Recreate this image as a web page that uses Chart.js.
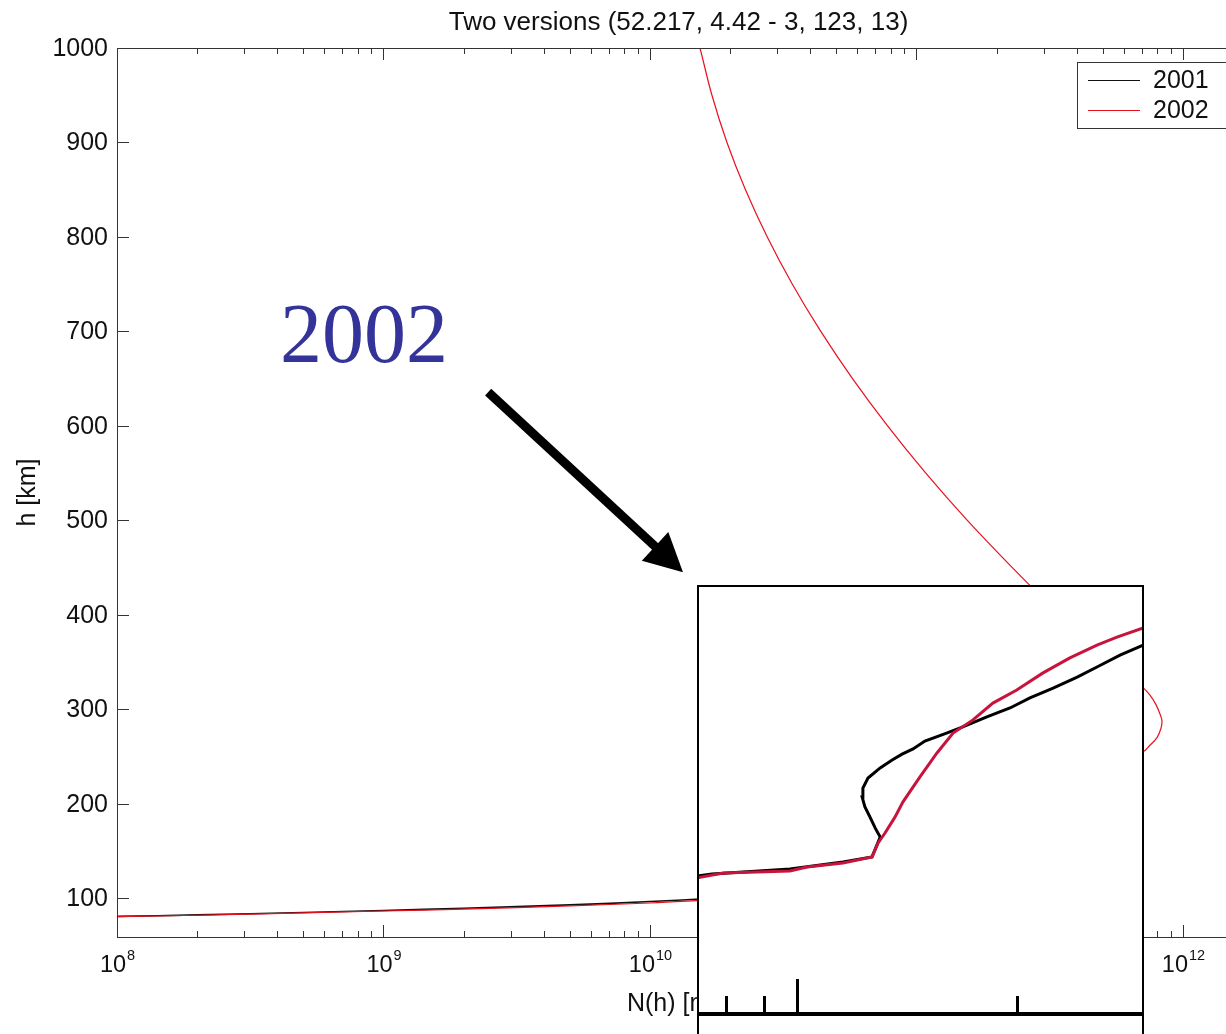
<!DOCTYPE html>
<html>
<head>
<meta charset="utf-8">
<title>Two versions</title>
<script src="https://cdn.jsdelivr.net/npm/chart.js@4.4.1/dist/chart.umd.min.js"></script>
<style>
	html, body { margin: 0; padding: 0; background: #fff; overflow: hidden; }
	#page { position: relative; width: 1226px; height: 1034px; overflow: hidden; background: #fff; }
	#main { position: absolute; left: 0; top: 0; }
	#inset { position: absolute; left: 697px; top: 585px; width: 443px; height: 447px; border: 2px solid #000; background: #fff; }
	#inset canvas { display: block; }
</style>
</head>
<body>
<div id="page">
	<canvas id="main" width="1300" height="1034"></canvas>
	<div id="inset"><canvas id="zoom" width="443" height="447"></canvas></div>
</div>
<script>
// electron density N [m^-3] against height h [km]
var n2001 = [1e8, 2e8, 5e8, 1e9, 2e9, 5e9, 1e10, 1.6e10, 2.5e10, 4e10, 7e10, 1e11, 1.1e11, 1.5e11, 2.2e11, 3.2e11, 4.5e11, 5.5e11, 6.2e11];
var h2001 = [80.8, 82.4, 85, 87, 89.5, 93, 96.5, 99.5, 102, 106, 112, 125, 150, 175, 200, 230, 260, 290, 320];

var n2002 = [1e8, 2e8, 5e8, 1e9, 2e9, 5e9, 1e10, 1.6e10, 2.5e10, 4e10, 7e10, 1e11, 1.3e11, 1.6e11, 2.2e11, 3e11, 4.2e11, 5.6e11,
	7.08e11, 7.52e11, 7.99e11, 8.27e11, 8.34e11, 8.20e11, 7.92e11, 7.52e11, 7.08e11, 5.94e11, 4.95e11, 3.48e11, 2.67e11,
	2.29e11, 1.552e11, 1.084e11, 7.79e10, 5.754e10, 4.375e10, 3.422e10, 2.755e10, 2.282e10, 1.945e10, 1.708e10, 1.54e10, 1.39e10];
var h2002 = [80.5, 82, 84.5, 86.5, 88.5, 92, 95, 98, 101, 105, 110, 118, 130, 150, 175, 200, 225, 245,
	255, 262, 270, 280, 288, 295, 305, 315, 323, 340, 360, 400, 431,
	450, 500, 550, 600, 650, 700, 750, 800, 850, 900, 950, 1000, 1045];

var seriesLabels = ['2001', '2002'];
var seriesColors = ['#111111', '#e8101e'];

var xDecades = [8, 9, 10, 11, 12];
var yTicks = [100, 200, 300, 400, 500, 600, 700, 800, 900, 1000];

// pasted close-up of the lower profile
var zoomN2001 = [7.2e9, 7.65e9, 9.78e9, 1.156e10, 1.267e10, 1.30e10, 1.28e10, 1.259e10, 1.239e10, 1.228e10, 1.231e10, 1.251e10, 1.30e10,
	1.35e10, 1.393e10, 1.442e10, 1.497e10, 1.603e10, 1.687e10, 1.82e10, 1.958e10, 2.085e10, 2.243e10, 2.42e10, 2.576e10, 2.77e10, 2.98e10];
var zoomH2001 = [125, 125.8, 127.4, 129.7, 131.4, 137.9, 140.8, 144.4, 147.7, 151.0, 153.9, 157.2, 160.5,
	163.1, 165.0, 166.7, 169.3, 171.9, 173.9, 177.2, 180.1, 183.4, 186.6, 190.2, 193.5, 197.4, 200.7];
var zoomN2002 = [7.2e9, 7.93e9, 9.78e9, 1.032e10, 1.156e10, 1.267e10, 1.291e10, 1.32e10, 1.362e10, 1.397e10, 1.473e10, 1.555e10,
	1.636e10, 1.742e10, 1.855e10, 2.0e10, 2.17e10, 2.365e10, 2.576e10, 2.743e10, 2.98e10];
var zoomH2002 = [124.3, 126.1, 126.8, 128.1, 129.4, 131.4, 135.9, 139.2, 144.4, 149.4, 157.5, 165.4,
	171.9, 176.2, 181.7, 186.0, 191.5, 196.5, 200.7, 203.3, 206.3];
var zoomTicks = [8e9, 9e9, 1e10, 2e10];
var zoomMajor = [1e10];
var zoomBase = 80;

var noteText = '2002';
var notePos = { n: 4.09e8, h: 667.5 };
var arrowFrom = { n: 2.47e9, h: 635.7 };
var arrowTo = { n: 1.33e10, h: 445.2 };

var family = "'Liberation Sans', Arial, Helvetica, sans-serif";

function toPoints(ns, hs) {
	return ns.map(function (n, i) { return { x: n, y: hs[i] }; });
}

function line(ctx, x1, y1, x2, y2) {
	ctx.beginPath();
	ctx.moveTo(x1, y1);
	ctx.lineTo(x2, y2);
	ctx.stroke();
}

var frame = {
	id: 'frame',
	afterDraw: function (chart) {
		var ctx = chart.ctx, a = chart.chartArea, xs = chart.scales.x, ys = chart.scales.y;
		ctx.save();
		ctx.strokeStyle = '#333';
		ctx.fillStyle = '#111';
		ctx.lineWidth = 1;
		ctx.strokeRect(Math.round(a.left) + 0.5, Math.round(a.top) + 0.5, Math.round(a.right - a.left), Math.round(a.bottom - a.top));

		// y ticks and labels
		ctx.font = '25px ' + family;
		ctx.textAlign = 'right';
		ctx.textBaseline = 'middle';
		yTicks.forEach(function (v) {
			var y = Math.round(ys.getPixelForValue(v)) + 0.5;
			line(ctx, a.left, y, a.left + 12, y);
			line(ctx, a.right, y, a.right - 12, y);
			ctx.fillText(String(v), a.left - 9, y + 1);
		});

		// x ticks, log minor ticks
		xDecades.forEach(function (d) {
			for (var m = 1; m <= 9; m++) {
				var v = m * Math.pow(10, d);
				if (v > xs.max) break;
				var x = Math.round(xs.getPixelForValue(v)) + 0.5;
				var len = m === 1 ? 12 : 6;
				line(ctx, x, a.bottom, x, a.bottom - len);
				line(ctx, x, a.top, x, a.top + len);
			}
			var px = xs.getPixelForValue(Math.pow(10, d));
			ctx.textAlign = 'left';
			ctx.textBaseline = 'alphabetic';
			ctx.font = '23.5px ' + family;
			var wb = ctx.measureText('10').width;
			ctx.font = '14.5px ' + family;
			var we = ctx.measureText(String(d)).width;
			var left = px - (wb + we) / 2;
			ctx.font = '23.5px ' + family;
			ctx.fillText('10', left, a.bottom + 35);
			ctx.font = '14.5px ' + family;
			ctx.fillText(String(d), left + wb + 1, a.bottom + 23);
		});

		// title
		var cx = (a.left + a.right) / 2;
		ctx.font = '26px ' + family;
		ctx.textAlign = 'center';
		ctx.fillText('Two versions (52.217, 4.42 - 3, 123, 13)', cx, a.top - 18);

		// x label with superscript
		ctx.font = '25px ' + family;
		var w1 = ctx.measureText('N(h) [m').width;
		var w3 = ctx.measureText(']').width;
		ctx.font = '14.5px ' + family;
		var w2 = ctx.measureText('-3').width;
		var lx = cx - (w1 + w2 + w3) / 2;
		ctx.textAlign = 'left';
		ctx.font = '25px ' + family;
		ctx.fillText('N(h) [m', lx, a.bottom + 74);
		ctx.fillText(']', lx + w1 + w2 + 1, a.bottom + 74);
		ctx.font = '14.5px ' + family;
		ctx.fillText('-3', lx + w1 + 1, a.bottom + 62);

		// y label
		ctx.save();
		ctx.translate(28, (a.top + a.bottom) / 2);
		ctx.rotate(-Math.PI / 2);
		ctx.font = '25px ' + family;
		ctx.textAlign = 'center';
		ctx.textBaseline = 'middle';
		ctx.fillText('h [km]', 0, 0);
		ctx.restore();

		// legend box, top right inside the axes
		var bx = a.right - 163, by = a.top + 14;
		ctx.fillStyle = '#fff';
		ctx.fillRect(bx, by, 151, 66);
		ctx.strokeStyle = '#333';
		ctx.strokeRect(bx + 0.5, by + 0.5, 151, 66);
		ctx.font = '25px ' + family;
		ctx.textAlign = 'left';
		ctx.textBaseline = 'middle';
		chart.data.datasets.forEach(function (ds, i) {
			var ly = by + 18 + i * 30 + 0.5;
			ctx.strokeStyle = ds.borderColor;
			ctx.lineWidth = 1.2;
			line(ctx, bx + 11, ly, bx + 63, ly);
			ctx.fillStyle = '#111';
			ctx.fillText(ds.label, bx + 76, ly + 1);
		});

		// annotation text and arrow
		ctx.font = "84px 'Liberation Serif', 'Times New Roman', serif";
		ctx.fillStyle = '#333399';
		ctx.textBaseline = 'alphabetic';
		ctx.fillText(noteText, xs.getPixelForValue(notePos.n), ys.getPixelForValue(notePos.h));

		var p0x = xs.getPixelForValue(arrowFrom.n), p0y = ys.getPixelForValue(arrowFrom.h);
		var p1x = xs.getPixelForValue(arrowTo.n), p1y = ys.getPixelForValue(arrowTo.h);
		var dx = p1x - p0x, dy = p1y - p0y, len = Math.hypot(dx, dy), ux = dx / len, uy = dy / len;
		var hx = p1x - ux * 38, hy = p1y - uy * 38;
		ctx.strokeStyle = '#000';
		ctx.lineWidth = 9;
		ctx.lineCap = 'butt';
		line(ctx, p0x, p0y, hx + ux * 2, hy + uy * 2);
		ctx.fillStyle = '#000';
		ctx.beginPath();
		ctx.moveTo(p1x, p1y);
		ctx.lineTo(hx - uy * 19.5, hy + ux * 19.5);
		ctx.lineTo(hx + uy * 19.5, hy - ux * 19.5);
		ctx.closePath();
		ctx.fill();
		ctx.restore();
	}
};

new Chart('main', {
	type: 'line',
	data: {
		datasets: [
			{ label: seriesLabels[0], data: toPoints(n2001, h2001), borderColor: seriesColors[0], borderWidth: 1.6, order: 1 },
			{ label: seriesLabels[1], data: toPoints(n2002, h2002), borderColor: seriesColors[1], borderWidth: 1.2, order: 0 }
		]
	},
	options: {
		responsive: false,
		animation: false,
		devicePixelRatio: 1,
		layout: { padding: { left: 117, top: 48, right: 60, bottom: 97 } },
		elements: { point: { radius: 0 }, line: { tension: 0.4 } },
		scales: {
			x: { type: 'logarithmic', min: 1e8, max: Math.pow(10, 12.214), display: false },
			y: { type: 'linear', min: 59, max: 1000, display: false }
		},
		plugins: { legend: { display: false }, tooltip: { enabled: false } }
	},
	plugins: [frame]
});

var zoomAxis = {
	id: 'zoomAxis',
	afterDraw: function (chart) {
		var ctx = chart.ctx, a = chart.chartArea, xs = chart.scales.x, ys = chart.scales.y;
		var y0 = ys.getPixelForValue(zoomBase);
		ctx.save();
		ctx.strokeStyle = '#000';
		ctx.lineWidth = 4;
		line(ctx, a.left, y0, a.right, y0);
		ctx.lineWidth = 3;
		zoomTicks.forEach(function (v) {
			var x = Math.round(xs.getPixelForValue(v)) + 0.5;
			var len = zoomMajor.indexOf(v) >= 0 ? 35 : 18;
			line(ctx, x, y0, x, y0 - len);
		});
		ctx.restore();
	}
};

new Chart('zoom', {
	type: 'line',
	data: {
		datasets: [
			{ label: seriesLabels[0], data: toPoints(zoomN2001, zoomH2001), borderColor: '#000', borderWidth: 3, order: 1 },
			{ label: seriesLabels[1], data: toPoints(zoomN2002, zoomH2002), borderColor: '#c8143c', borderWidth: 3, order: 0 }
		]
	},
	options: {
		responsive: false,
		animation: false,
		devicePixelRatio: 1,
		layout: { padding: 0 },
		elements: { point: { radius: 0 }, line: { tension: 0 } },
		scales: {
			x: { type: 'logarithmic', min: Math.pow(10, 9.86575), max: Math.pow(10, 10.4726), display: false },
			y: { type: 'linear', min: 73.46, max: 219.68, display: false }
		},
		plugins: { legend: { display: false }, tooltip: { enabled: false } }
	},
	plugins: [zoomAxis]
});
</script>
</body>
</html>
